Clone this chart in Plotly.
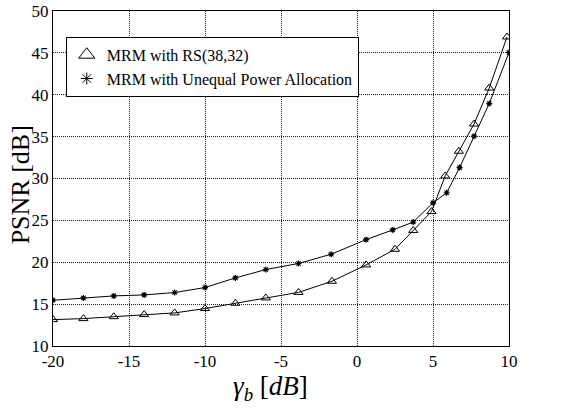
import plotly.graph_objects as go

# Data
x_rs = [-20, -18, -16, -14, -12, -10, -8, -6, -3.85, -1.65, 0.6, 2.5, 3.7, 4.9, 5.8, 6.7, 7.7, 8.7, 9.87]
y_rs = [13.15, 13.27, 13.5, 13.75, 13.95, 14.47, 15.1, 15.74, 16.4, 17.73, 19.68, 21.55, 23.8, 26.05, 30.3, 33.25, 36.5, 40.8, 46.9]

x_upa = [-20, -18, -16, -14, -12, -10, -8, -6, -3.85, -1.7, 0.6, 2.35, 3.7, 5.0, 5.9, 6.75, 7.7, 8.7, 10]
y_upa = [15.46, 15.74, 15.98, 16.1, 16.38, 16.98, 18.13, 19.13, 19.85, 20.96, 22.7, 23.86, 24.8, 27.1, 28.3, 31.3, 35.05, 38.95, 45.05]

name_rs = "MRM with RS(38,32)"
name_upa = "MRM with Unequal Power Allocation"

x_ticks = [-20, -15, -10, -5, 0, 5, 10]
x_ticktext = ["-20", "-15", "-10", "-5", "0", "5", "10"]
y_ticks = [10, 15, 20, 25, 30, 35, 40, 45, 50]
y_ticktext = ["10", "15", "20", "25", "30", "35", "40", "45", "50"]

x_title = "<i>γ<sub>b</sub></i> [<i>dB</i>]"
y_title = "PSNR [dB]"

font = "Liberation Serif, Times New Roman, serif"

fig = go.Figure()
fig.add_trace(go.Scatter(x=x_rs, y=y_rs, mode="lines+markers", showlegend=False,
                         line=dict(color="black", width=1),
                         marker=dict(symbol="triangle-up-open", size=8, color="black", line=dict(width=1))))
fig.add_trace(go.Scatter(x=x_upa, y=y_upa, mode="lines+markers", showlegend=False,
                         line=dict(color="black", width=1),
                         marker=dict(symbol="asterisk-open", size=5, color="black", line=dict(width=1.2))))
# legend-only entries (markers only)
fig.add_trace(go.Scatter(x=[None], y=[None], mode="markers", name=name_rs,
                         marker=dict(symbol="triangle-up-open", size=14, color="black", line=dict(width=1))))
fig.add_trace(go.Scatter(x=[None], y=[None], mode="markers", name=name_upa,
                         marker=dict(symbol="asterisk-open", size=10, color="black", line=dict(width=1))))

axis_common = dict(showline=True, linecolor="black", linewidth=1, mirror=True,
                   showgrid=True, gridcolor="#222", griddash="1px,1px", gridwidth=1,
                   zeroline=False, ticks="", automargin=False,
                   tickfont=dict(family=font, size=17, color="black"))

fig.update_xaxes(range=[-20, 10], tickvals=x_ticks, ticktext=x_ticktext, **axis_common)
fig.update_yaxes(range=[10, 50], tickvals=y_ticks, ticktext=y_ticktext, **axis_common)

fig.add_annotation(text=x_title, xref="paper", yref="paper", x=0.476, y=-0.125,
                   xanchor="center", yanchor="middle", showarrow=False,
                   font=dict(family=font, size=27, color="black"))
fig.add_annotation(text=y_title, xref="paper", yref="paper", x=-0.072, y=0.48,
                   xanchor="center", yanchor="middle", showarrow=False, textangle=-90,
                   font=dict(family=font, size=26, color="black"))

fig.update_layout(
    width=567, height=414,
    margin=dict(l=53, r=58, t=11, b=68, autoexpand=False),
    paper_bgcolor="white", plot_bgcolor="white",
    font=dict(family=font, color="black"),
    legend=dict(x=0.028, y=0.923, xanchor="left", yanchor="top",
                bgcolor="white", bordercolor="black", borderwidth=1,
                font=dict(family=font, size=16, color="black"),
                tracegroupgap=0, itemwidth=30),
)

# remove the default 8px page margin so the figure sits at the window's corner
fig.write_html("out.html", config={"displayModeBar": False},
               post_script="document.body.style.margin='0';")
